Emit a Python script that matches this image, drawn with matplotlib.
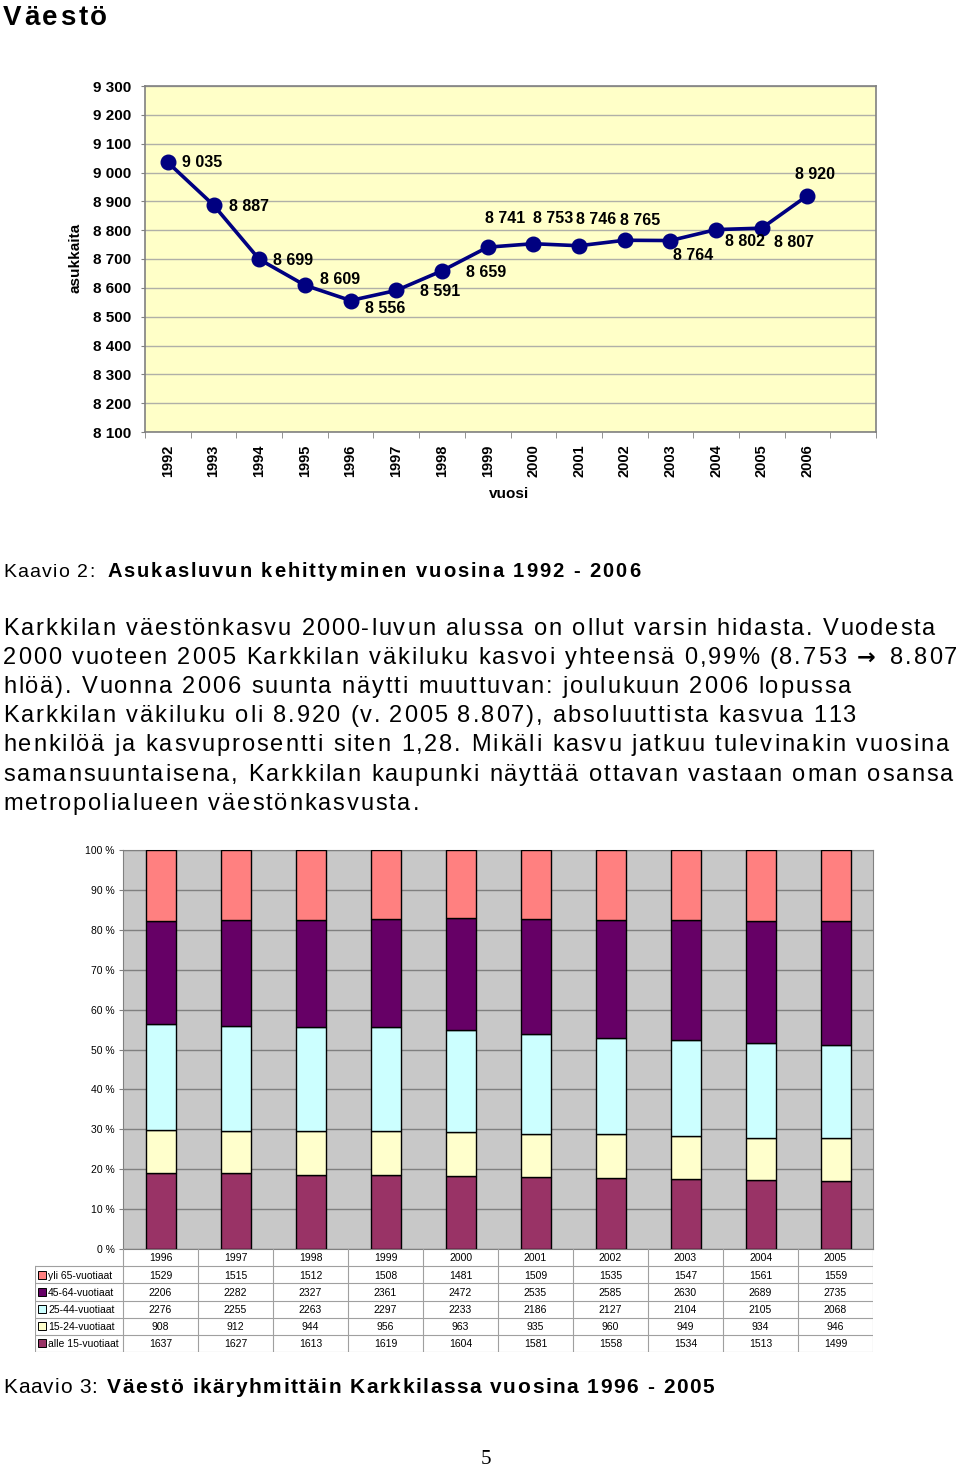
import matplotlib
matplotlib.use("Agg")
import matplotlib.pyplot as plt
from matplotlib.patches import Rectangle
from matplotlib.font_manager import FontProperties, fontManager
import numpy as np

# --- data: population 1992-2006 ---
years_line = ["1992", "1993", "1994", "1995", "1996", "1997", "1998", "1999",
              "2000", "2001", "2002", "2003", "2004", "2005", "2006"]
population = [9035, 8887, 8699, 8609, 8556, 8591, 8659, 8741,
              8753, 8746, 8765, 8764, 8802, 8807, 8920]

# --- data: age groups 1996-2005 ---
years_bar = ["1996", "1997", "1998", "1999", "2000", "2001", "2002", "2003", "2004", "2005"]
yli_65 = [1529, 1515, 1512, 1508, 1481, 1509, 1535, 1547, 1561, 1559]
v_45_64 = [2206, 2282, 2327, 2361, 2472, 2535, 2585, 2630, 2689, 2735]
v_25_44 = [2276, 2255, 2263, 2297, 2233, 2186, 2127, 2104, 2105, 2068]
v_15_24 = [908, 912, 944, 956, 963, 935, 960, 949, 934, 946]
alle_15 = [1637, 1627, 1613, 1619, 1604, 1581, 1558, 1534, 1513, 1499]

group_names = ["yli 65-vuotiaat", "45-64-vuotiaat", "25-44-vuotiaat",
               "15-24-vuotiaat", "alle 15-vuotiaat"]

paragraph = [
    "Karkkilan väestönkasvu 2000-luvun alussa on ollut varsin hidasta. Vuodesta",
    "2000 vuoteen 2005 Karkkilan väkiluku kasvoi yhteensä 0,99% (8.753 → 8.807",
    "hlöä). Vuonna 2006 suunta näytti muuttuvan: joulukuun 2006 lopussa",
    "Karkkilan väkiluku oli 8.920 (v. 2005 8.807), absoluuttista kasvua 113",
    "henkilöä ja kasvuprosentti siten 1,28. Mikäli kasvu jatkuu tulevinakin vuosina",
    "samansuuntaisena, Karkkilan kaupunki näyttää ottavan vastaan oman osansa",
    "metropolialueen väestönkasvusta.",
]

W, H = 960, 1469
ARIAL = "Liberation Sans"
installed = {f.name for f in fontManager.ttflist}
NARROW = "Liberation Sans Narrow" if "Liberation Sans Narrow" in installed else None

fig = plt.figure(figsize=(W / 100, H / 100), dpi=100)
renderer = fig.canvas.get_renderer()


def px_axes(left, top, right, bottom):
    return fig.add_axes([left / W, 1 - bottom / H, (right - left) / W, (bottom - top) / H])


def fy(y):
    return 1 - y / H


def text_w(s, prop):
    if not s:
        return 0.0
    return renderer.get_text_width_height_descent(s, prop, ismath=False)[0]


def spaced_text(x0, base, s, size, weight="normal", family=ARIAL, spacing=0.0, end=None):
    """draw text with extra letter spacing (pixels), baseline at base"""
    prop = FontProperties(family=family, size=size, weight=weight)
    if end is not None and len(s) > 1:
        spacing = (end - x0 - text_w(s, prop)) / (len(s) - 1)
    for i, ch in enumerate(s):
        if ch == " ":
            continue
        xi = x0 + text_w(s[:i], prop) + i * spacing
        if ch == "→":
            # the original uses a heavy symbol-font arrow
            fig.text(xi / W, fy(base), ch, family="DejaVu Sans", fontweight="bold",
                     size=size * 0.95, ha="left", va="baseline")
            continue
        fig.text(xi / W, fy(base), ch, fontproperties=prop, ha="left", va="baseline")
    return x0 + text_w(s, prop) + (len(s) - 1) * spacing, spacing


# title
spaced_text(3, 25, "Väestö", 20, "bold", end=107)

# ---------- line chart ----------
ax1 = px_axes(145, 86, 876, 432)
ax1.set_facecolor("#FFFFC8")
x = np.arange(len(years_line))
ax1.plot(x, population, color="#000080", lw=2.6, marker="o", ms=10.5, zorder=3,
         clip_on=False)
ax1.set_xlim(-0.5, len(years_line) + 0.5)
ax1.set_ylim(8100, 9300)
yt = np.arange(8100, 9301, 100)
ax1.set_yticks(yt)
ax1.set_yticklabels([f"{v:,}".replace(",", " ") for v in yt], fontsize=11,
                    fontweight="bold", family=ARIAL)
ax1.grid(axis="y", color="#B0B0A8", lw=1)
ax1.set_axisbelow(True)
ax1.set_xticks(x)
ax1.set_xticklabels(years_line, rotation=90, fontsize=10.5, fontweight="bold", family=ARIAL)
ax1.set_xticks(np.arange(-0.5, len(years_line) + 0.6, 1), minor=True)
ax1.tick_params(axis="x", which="major", length=0, pad=9)
ax1.tick_params(axis="x", which="minor", length=4, color="#808080")
ax1.tick_params(axis="y", length=3, pad=7, color="#808080")
for s in ax1.spines.values():
    s.set_color("#808080")
    s.set_linewidth(1.2)

label_offsets = [(34, 0), (35, -1), (34, -1), (35, 6), (35, -8), (44, -1), (44, -2),
                 (17, 29), (20, 25), (17, 26), (15, 20), (23, -15), (29, -12),
                 (32, -14), (8, 21)]
for xi, v, off in zip(x, population, label_offsets):
    ax1.annotate(f"{v:,}".replace(",", " "), (xi, v), xytext=off,
                 textcoords="offset pixels", ha="center", va="center",
                 fontsize=11.5, fontweight="bold", family=ARIAL)

fig.text(75 / W, fy(258), "asukkaita", rotation=90, fontsize=11, fontweight="bold",
         family=ARIAL, ha="center", va="center")
fig.text(509 / W, fy(494), "vuosi", fontsize=11, fontweight="bold", family=ARIAL,
         ha="center", va="center")

# caption 2
spaced_text(3, 577, "Kaavio 2:", 14, end=95)
spaced_text(107, 577, "Asukasluvun kehittyminen vuosina 1992 - 2006", 14.5, "bold", end=640)

# paragraph, letter spacing taken from the longest line
pprop = FontProperties(family=ARIAL, size=17)
p_sp = (957 - 3 - text_w(paragraph[1], pprop)) / (len(paragraph[1]) - 1)
line_base = [635, 664, 693, 722, 751, 781, 810]
for base, txt in zip(line_base, paragraph):
    spaced_text(3, base, txt, 17, spacing=p_sp)

# ---------- stacked 100% bar chart ----------
ax2 = px_axes(123, 850, 873, 1249)
ax2.set_facecolor("#C8C8C8")
series = [alle_15, v_15_24, v_25_44, v_45_64, yli_65]
colors = ["#993366", "#FFFFCC", "#CCFFFF", "#660066", "#FF8080"]
totals = np.sum(np.array(series, dtype=float), axis=0)
xb = np.arange(len(years_bar))
bottom = np.zeros(len(years_bar))
for vals, c in zip(series, colors):
    share = np.array(vals) / totals * 100
    ax2.bar(xb, share, width=0.4, bottom=bottom, color=c, edgecolor="black", lw=1, zorder=3)
    bottom += share
ax2.set_xlim(-0.5, len(years_bar) - 0.5)
ax2.set_ylim(0, 100)
ax2.set_yticks(np.arange(0, 101, 10))
ax2.set_yticklabels([f"{v} %" for v in range(0, 101, 10)], fontsize=7.5, family=ARIAL)
ax2.grid(axis="y", color="#808080", lw=1)
ax2.set_axisbelow(True)
ax2.set_xticks([])
ax2.tick_params(axis="y", length=3, pad=3, color="#808080")
for s in ax2.spines.values():
    s.set_color("#808080")

# data table under the bars
axt = px_axes(35, 1249, 873, 1352)
axt.axis("off")
x_left = -0.5 - 88 / 75
axt.set_xlim(x_left, len(years_bar) - 0.5)
axt.set_ylim(6, 0)
grid_c = "#A0A0A0"
for r in range(1, 7):
    axt.plot([x_left, len(years_bar) - 0.5], [r, r], color=grid_c, lw=0.8)
for i in range(len(years_bar) + 1):
    axt.plot([i - 0.5, i - 0.5], [0, 6], color=grid_c, lw=0.8)
axt.plot([x_left, x_left], [1, 6], color=grid_c, lw=0.8)

rows = [yli_65, v_45_64, v_25_44, v_15_24, alle_15]
row_colors = colors[::-1]
for i, yr in enumerate(years_bar):
    axt.text(i, 0.5, yr, ha="center", va="center", fontsize=7.5, family=ARIAL)
for r, (name, vals, c) in enumerate(zip(group_names, rows, row_colors), start=1):
    axt.add_patch(Rectangle((x_left + 3 / 75, r + 0.27), 8 / 75, 0.46, facecolor=c,
                            edgecolor="black", lw=0.7))
    axt.text(x_left + 13 / 75, r + 0.55, name, ha="left", va="center", fontsize=7.5,
             family=ARIAL)
    for i, v in enumerate(vals):
        axt.text(i, r + 0.55, str(v), ha="center", va="center", fontsize=7.5, family=ARIAL)

# caption 3 (narrow font in the original)
if NARROW:
    spaced_text(3, 1393, "Kaavio 3:", 15, family=NARROW, end=97)
    spaced_text(107, 1393, "Väestö ikäryhmittäin Karkkilassa vuosina 1996 - 2005", 15,
                "bold", family=NARROW, end=714)
else:
    spaced_text(3, 1393, "Kaavio 3:", 15, end=97)
    spaced_text(107, 1393, "Väestö ikäryhmittäin Karkkilassa vuosina 1996 - 2005", 15,
                "bold", end=714)

fig.text(486 / W, fy(1460), "5", fontsize=15, family="Liberation Serif", ha="center",
         va="center")

fig.savefig("out.png", dpi=100)
